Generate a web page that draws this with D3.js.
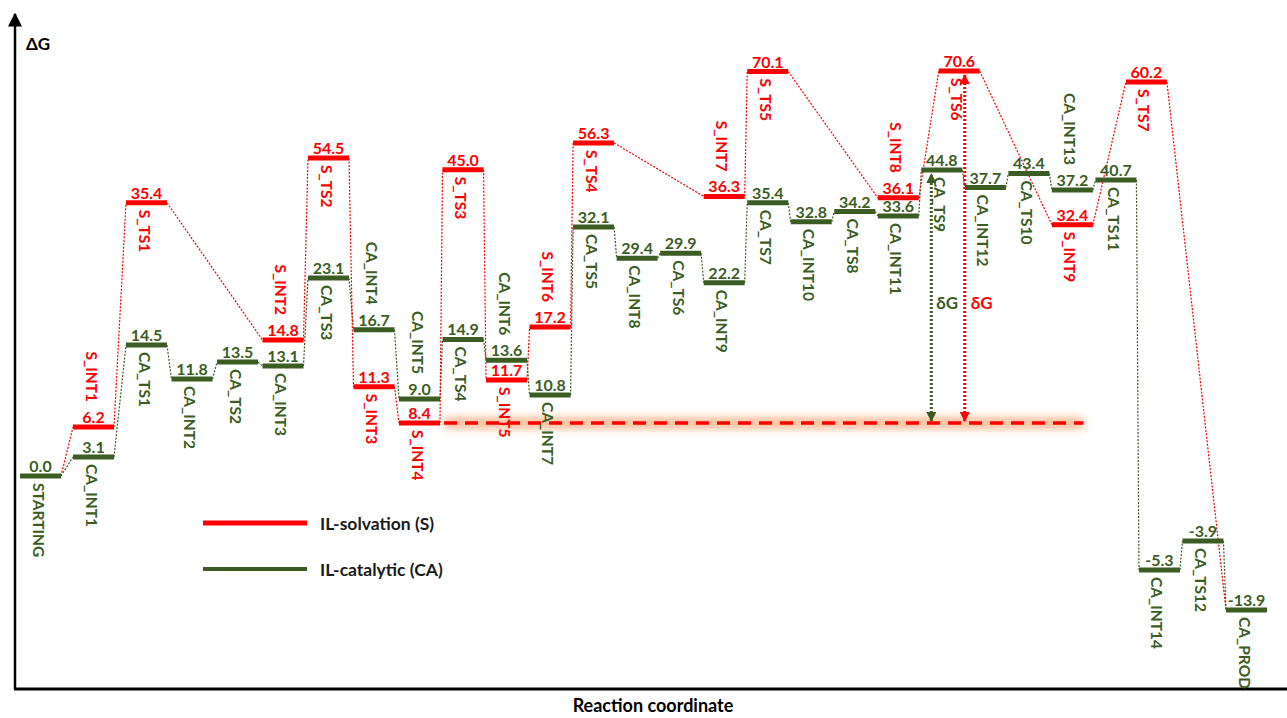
<!DOCTYPE html>
<html>
<head>
<meta charset="utf-8">
<script src="https://cdn.jsdelivr.net/npm/d3@7"></script>
<style>
  body { margin: 0; background: #fff; }
  text { font-family: Lato, "Open Sans", sans-serif; font-weight: bold; }
</style>
</head>
<body>
<script>
// IL-catalytic (CA) pathway, in order along the reaction coordinate
var caNames = ["STARTING", "CA_INT1", "CA_TS1", "CA_INT2", "CA_TS2", "CA_INT3", "CA_TS3",
  "CA_INT4", "CA_INT5", "CA_TS4", "CA_INT6", "CA_INT7", "CA_TS5", "CA_INT8", "CA_TS6",
  "CA_INT9", "CA_TS7", "CA_INT10", "CA_TS8", "CA_INT11", "CA_TS9", "CA_INT12", "CA_TS10",
  "CA_INT13", "CA_TS11", "CA_INT14", "CA_TS12", "CA_PROD"];
var caValues = [0.0, 3.1, 14.5, 11.8, 13.5, 13.1, 23.1, 16.7, 9.0, 14.9, 13.6, 10.8, 32.1,
  29.4, 29.9, 22.2, 35.4, 32.8, 34.2, 33.6, 44.8, 37.7, 43.4, 37.2, 40.7, -5.3, -3.9, -13.9];

// IL-solvation (S) pathway (starts at STARTING and ends at CA_PROD)
var sNames = ["S_INT1", "S_TS1", "S_INT2", "S_TS2", "S_INT3", "S_INT4", "S_TS3", "S_INT5",
  "S_INT6", "S_TS4", "S_INT7", "S_TS5", "S_INT8", "S_TS6", "S_INT9", "S_TS7"];
var sValues = [6.2, 35.4, 14.8, 54.5, 11.3, 8.4, 45.0, 11.7, 17.2, 56.3, 36.3, 70.1, 36.1,
  70.6, 32.4, 60.2];
// reaction coordinate step of each S state
var sSteps = [1, 2, 5, 6, 7, 8, 9, 10, 11, 12, 15, 16, 19, 20.4, 23, 24.7];

// names that are written above their level
var namesAbove = ["S_INT1", "S_INT2", "CA_INT4", "CA_INT5", "CA_INT6", "S_INT6", "S_INT7",
  "S_INT8", "CA_INT13"];

var svgWidth = 1287;
var svgHeight = 718;
var barW = 41;
var green = "#3b5d23";
var red = "#ff0000";

var svg = d3.select("body")
  .append("svg")
  .attr("width", svgWidth)
  .attr("height", svgHeight);

var defs = svg.append("defs");
defs.append("filter").attr("id", "glow")
  .attr("filterUnits", "userSpaceOnUse")
  .attr("x", 0).attr("y", 0).attr("width", svgWidth).attr("height", svgHeight)
  .append("feGaussianBlur").attr("stdDeviation", 4);

function arrowMarker(id, color, size) {
  defs.append("marker")
    .attr("id", id)
    .attr("viewBox", "0 0 10 10")
    .attr("refX", 9).attr("refY", 5)
    .attr("markerWidth", size).attr("markerHeight", size)
    .attr("markerUnits", "userSpaceOnUse")
    .attr("orient", "auto-start-reverse")
    .append("path")
    .attr("d", "M0,0 L10,5 L0,10 Z")
    .attr("fill", color);
}
arrowMarker("arrowK", "#000", 14);
arrowMarker("arrowG", green, 10);
arrowMarker("arrowR", red, 10);

// reaction coordinate (x) and energy (y); the diagram is not drawn to scale,
// so the energy axis is a piecewise scale
var x = d3.scaleLinear()
  .domain([0, 2, 8, 27])
  .range([20, 126, 399, 1226]);

var y = d3.scaleLinear()
  .domain([-13.9, -5.3, -3.9, 0, 3.1, 6.2, 8.4, 9.0, 10.8, 11.7, 13.5, 14.8, 17.2, 22.5,
    29.5, 32.1, 35.5, 37.5, 44.8, 54.5, 56.3, 60.2, 70.6])
  .range([610, 570, 541, 476, 457, 427, 423, 399, 395, 380, 362, 340, 327, 280, 258, 227,
    202, 188, 170, 158, 143, 82, 71]);

var caStates = caNames.map(function(n, i) {
  return { name: n, value: caValues[i], step: i };
});
var sStates = sNames.map(function(n, i) {
  return { name: n, value: sValues[i], step: sSteps[i] };
});
var redPath = [caStates[0]].concat(sStates, [caStates[caStates.length - 1]]);

// axes
svg.append("line")
  .attr("x1", 15).attr("y1", 689).attr("x2", 15).attr("y2", 14)
  .attr("stroke", "#000").attr("stroke-width", 2.5)
  .attr("marker-end", "url(#arrowK)");
svg.append("line")
  .attr("x1", 14).attr("y1", 689).attr("x2", svgWidth).attr("y2", 689)
  .attr("stroke", "#000").attr("stroke-width", 3);
svg.append("text")
  .attr("x", 26).attr("y", 50)
  .attr("font-size", 17).attr("fill", "#000")
  .text("ΔG");
svg.append("text")
  .attr("x", 653).attr("y", 712)
  .attr("text-anchor", "middle")
  .attr("font-size", 18).attr("fill", "#000")
  .text("Reaction coordinate");

// reference level at S_INT4 with a soft glow
var refState = sStates[sNames.indexOf("S_INT4")];
var refX1 = x(refState.step) + barW + 4;
var refX2 = x(caNames.indexOf("CA_TS11")) - 12;
svg.append("line")
  .attr("x1", refX1).attr("x2", refX2)
  .attr("y1", y(refState.value)).attr("y2", y(refState.value))
  .attr("stroke", "#ff9a60").attr("stroke-width", 11).attr("opacity", 0.7)
  .attr("filter", "url(#glow)");
svg.append("line")
  .attr("x1", refX1).attr("x2", refX2)
  .attr("y1", y(refState.value)).attr("y2", y(refState.value))
  .attr("stroke", red).attr("stroke-width", 3.5)
  .attr("stroke-dasharray", "13,8");

// dotted connectors between consecutive levels
function drawConnectors(states, color) {
  var pairs = d3.pairs(states);
  svg.append("g").selectAll("line")
    .data(pairs)
    .enter()
    .append("line")
    .attr("x1", d => x(d[0].step) + barW)
    .attr("y1", d => y(d[0].value))
    .attr("x2", d => x(d[1].step))
    .attr("y2", d => y(d[1].value))
    .attr("stroke", color)
    .attr("stroke-width", 1.2)
    .attr("stroke-dasharray", "2,1.5");
}
drawConnectors(caStates, green);
drawConnectors(redPath, red);

// energy levels, values and names
function drawLevels(states, color) {
  var g = svg.append("g");
  g.selectAll("line")
    .data(states)
    .enter()
    .append("line")
    .attr("x1", d => x(d.step))
    .attr("x2", d => x(d.step) + barW)
    .attr("y1", d => y(d.value))
    .attr("y2", d => y(d.value))
    .attr("stroke", color)
    .attr("stroke-width", 5);

  g.selectAll(".val")
    .data(states)
    .enter()
    .append("text")
    .attr("class", "val")
    .attr("x", d => x(d.step) + barW / 2)
    .attr("y", d => y(d.value) - 4)
    .attr("text-anchor", "middle")
    .attr("font-size", 16)
    .attr("fill", color)
    .text(d => d.value.toFixed(1));

  g.selectAll(".name")
    .data(states)
    .enter()
    .append("text")
    .attr("class", "name")
    .attr("transform", function(d) {
      var above = namesAbove.indexOf(d.name) >= 0;
      var ty = above ? y(d.value) - 25 : y(d.value) + 7;
      return "translate(" + (x(d.step) + barW / 2 - 2) + "," + ty + ") rotate(90)";
    })
    .attr("text-anchor", d => namesAbove.indexOf(d.name) >= 0 ? "end" : "start")
    .attr("dominant-baseline", "central")
    .attr("font-size", 15.5)
    .attr("fill", color)
    .text(d => d.name);
}
drawLevels(caStates, green);
drawLevels(sStates, red);

// δG arrows from the reference level up to the highest barriers
var ts9 = caStates[caNames.indexOf("CA_TS9")];
var ts6 = sStates[sNames.indexOf("S_TS6")];
var gx = x(ts9.step) + 10;
var rx = x(ts6.step) + 26;
svg.append("line")
  .attr("x1", gx).attr("x2", gx)
  .attr("y1", y(refState.value) - 2).attr("y2", y(ts9.value) + 4)
  .attr("stroke", green).attr("stroke-width", 3)
  .attr("stroke-dasharray", "2,2")
  .attr("marker-start", "url(#arrowG)")
  .attr("marker-end", "url(#arrowG)");
svg.append("line")
  .attr("x1", rx).attr("x2", rx)
  .attr("y1", y(refState.value) - 2).attr("y2", y(ts6.value) + 4)
  .attr("stroke", red).attr("stroke-width", 3)
  .attr("stroke-dasharray", "2,2")
  .attr("marker-start", "url(#arrowR)")
  .attr("marker-end", "url(#arrowR)");

var dgY = (y(refState.value) + y(ts9.value)) / 2 + 6;
svg.append("text")
  .attr("x", gx + 5).attr("y", dgY)
  .attr("dominant-baseline", "central")
  .attr("font-size", 17).attr("fill", green)
  .text("δG");
svg.append("text")
  .attr("x", rx + 6).attr("y", dgY)
  .attr("dominant-baseline", "central")
  .attr("font-size", 17).attr("fill", red)
  .text("δG");

// legend
var legendItems = [
  { label: "IL-solvation (S)", color: red },
  { label: "IL-catalytic (CA)", color: green }
];
var legend = svg.append("g").attr("transform", "translate(203, 523)");
legend.selectAll("line")
  .data(legendItems)
  .enter()
  .append("line")
  .attr("x1", 0).attr("x2", 104)
  .attr("y1", (d, i) => i * 46).attr("y2", (d, i) => i * 46)
  .attr("stroke", d => d.color)
  .attr("stroke-width", (d, i) => i === 0 ? 5 : 4);
legend.selectAll("text")
  .data(legendItems)
  .enter()
  .append("text")
  .attr("x", 117)
  .attr("y", (d, i) => i * 46)
  .attr("dominant-baseline", "central")
  .attr("font-size", 17.5)
  .attr("fill", "#1a1a1a")
  .text(d => d.label);
</script>
</body>
</html>
